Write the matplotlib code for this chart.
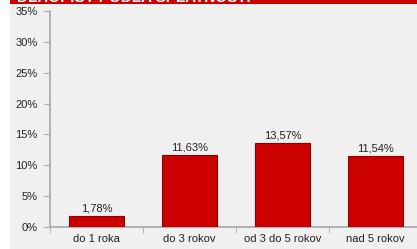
import matplotlib.pyplot as plt
from matplotlib.patches import Rectangle

kategorie = ['do 1 roka', 'do 3 rokov', 'od 3 do 5 rokov', 'nad 5 rokov']
hodnoty = [1.78, 11.63, 13.57, 11.54]
y_ticks = [0, 5, 10, 15, 20, 25, 30, 35]
titulok = 'DLHOPISY PODĽA SPLATNOSTI'

plt.rcParams['font.family'] = ['Liberation Sans', 'DejaVu Sans']

W, H = 417, 249
fig = plt.figure(figsize=(W / 100, H / 100), dpi=100)
fig.patch.set_facecolor('white')

# sive pozadie a cerveny pruh s nadpisom (orezany hore)
fig.add_artist(Rectangle((10 / W, 0), 1, 1, transform=fig.transFigure,
                         facecolor='#f0f0f0', edgecolor='none', zorder=-2))
fig.add_artist(Rectangle((10 / W, (H - 4) / H), 1, 1, transform=fig.transFigure,
                         facecolor='#cc0000', edgecolor='none', zorder=-1))
fig.text(17 / W, (H - 2.5) / H, titulok, color='white', fontsize=11, fontweight='bold',
         ha='left', va='baseline', zorder=5)

ax = fig.add_axes([50 / W, 22 / H, 372 / W, 216 / H])
ax.set_facecolor('none')
ax.set_zorder(1)

x = range(len(kategorie))
ax.bar(x, hodnoty, width=0.59, color='#cc0000', edgecolor='#8c0000', linewidth=0.8, zorder=3)
for i, v in enumerate(hodnoty):
    ax.annotate(('%.2f%%' % v).replace('.', ','), (i, v), xytext=(0, 2),
                textcoords='offset points', ha='center', va='bottom',
                fontsize=8, color='#222222')

ax.set_xlim(-0.5, len(kategorie) - 0.5)
ax.set_ylim(0, 35)
ax.set_yticks(y_ticks)
ax.set_yticklabels(['%d%%' % t for t in y_ticks])
ax.set_xticks(list(x))
ax.set_xticklabels(kategorie)
ax.set_xticks([i + 0.5 for i in range(-1, len(kategorie))], minor=True)

for s in ['top', 'right']:
    ax.spines[s].set_visible(False)
for s in ['left', 'bottom']:
    ax.spines[s].set_color('#a6a6a6')
    ax.spines[s].set_linewidth(1.2)

ax.tick_params(axis='y', length=4, color='#a6a6a6', labelsize=8, labelcolor='#222222', pad=5)
ax.tick_params(axis='x', which='major', length=0, labelsize=8, labelcolor='#222222', pad=5)
ax.tick_params(axis='x', which='minor', length=4, color='#a6a6a6')

fig.savefig('out.png', dpi=100)
